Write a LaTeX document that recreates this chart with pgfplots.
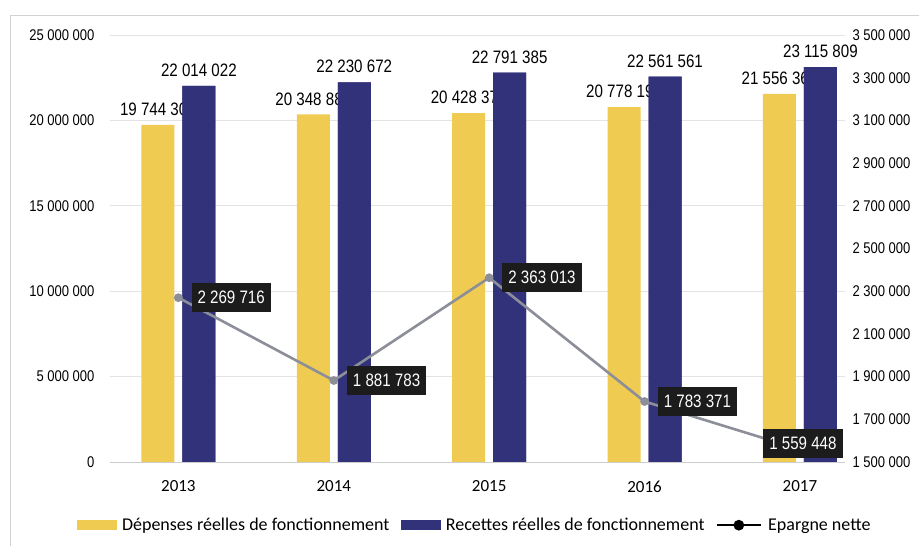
\documentclass[border=0pt]{standalone}
\usepackage{fontspec}
\setmainfont{Carlito}
\newfontfamily\narrowfont[FakeStretch=0.84]{Liberation Sans}
\usepackage{pgfplots}
\pgfplotsset{compat=1.18}
\definecolor{jaune}{RGB}{240,203,82}
\definecolor{bleu}{RGB}{50,50,122}
\definecolor{ligne}{RGB}{140,142,152}
\definecolor{boite}{RGB}{28,28,28}
\pgfplotsset{
  barres/.style={
    at={(110pt,84pt)}, anchor=south west,
    scale only axis, width=735pt, height=427pt,
    xmin=-0.44, xmax=4.29,
    ymin=0, ymax=25000000,
    ybar=8pt, bar width=33pt,
  },
}
\begin{document}
\begin{tikzpicture}
\useasboundingbox (0,0) rectangle (919pt,546pt);
\fill[white] (0,0) rectangle (919pt,546pt);
\draw[gray!35] (10pt,-5pt) rectangle (930pt,531pt);

% bars, left axis
\begin{axis}[
  barres,
  scaled y ticks=false,
  ytick={0,5000000,10000000,15000000,20000000,25000000},
  yticklabels={0,5 000 000,10 000 000,15 000 000,20 000 000,25 000 000},
  xtick={0,1,2,3,4},
  xticklabels={2013,2014,2015,2016,2017},
  axis x line*=bottom, axis y line*=left,
  y axis line style={draw=none},
  x axis line style={draw=gray!40, line width=0.8pt},
  major tick length=0pt,
  ymajorgrids, grid style={gray!22, line width=0.8pt},
  yticklabel style={font=\narrowfont\fontsize{15.5}{16}\selectfont, anchor=east, xshift=-12pt},
  xticklabel style={font=\fontsize{17}{18}\selectfont, yshift=-15pt},
  point meta=explicit symbolic,
  nodes near coords={\pgfplotspointmeta},
  every node near coord/.append style={font=\narrowfont\fontsize{18}{18}\selectfont, inner sep=0pt, yshift=9pt, text=black},
]
\addplot[fill=jaune, draw=none] coordinates {
  (0,19744306) [19 744 306]
  (1,20348889) [20 348 889]
  (2,20428372) [20 428 372]
  (3,20778190) [20 778 190]
  (4,21556361) [21 556 361]
};
\addplot[fill=bleu, draw=none] coordinates {
  (0,22014022) [22 014 022]
  (1,22230672) [22 230 672]
  (2,22791385) [22 791 385]
  (3,22561561) [22 561 561]
  (4,23115809) [23 115 809]
};
\end{axis}

% blue bars again, over the ends of the yellow labels
\begin{axis}[barres, hide axis]
\addplot[draw=none, fill=none] coordinates {(0,19744306) (1,20348889) (2,20428372) (3,20778190) (4,21556361)};
\addplot[fill=bleu, draw=none] coordinates {(0,22014022) (1,22230672) (2,22791385) (3,22561561) (4,23115809)};
\end{axis}

% net savings, right axis
\begin{axis}[
  at={(110pt,84pt)}, anchor=south west,
  scale only axis, width=735pt, height=427pt,
  xmin=-0.44, xmax=4.29,
  ymin=1500000, ymax=3500000,
  scaled y ticks=false,
  ytick={1500000,1700000,1900000,2100000,2300000,2500000,2700000,2900000,3100000,3300000,3500000},
  yticklabels={1 500 000,1 700 000,1 900 000,2 100 000,2 300 000,2 500 000,2 700 000,2 900 000,3 100 000,3 300 000,3 500 000},
  axis x line=none, axis y line*=right,
  y axis line style={draw=none},
  major tick length=0pt,
  yticklabel style={font=\narrowfont\fontsize{15.5}{16}\selectfont, anchor=west, xshift=4pt},
  legend style={at={(0.496,-0.148)}, anchor=center, draw=none, fill=none,
    font=\fontsize{18}{18}\selectfont, legend columns=3,
    nodes={inner xsep=2pt},
    /tikz/every odd column/.append style={column sep=4pt},
    /tikz/every even column/.append style={column sep=9pt}},
  legend cell align=left,
]
\addlegendimage{legend image code/.code={\fill[jaune] (0pt,-4.5pt) rectangle (39pt,4.5pt);}}
\addlegendentry{Dépenses réelles de fonctionnement}
\addlegendimage{legend image code/.code={\fill[bleu] (0pt,-4.5pt) rectangle (39pt,4.5pt);}}
\addlegendentry{Recettes réelles de fonctionnement}
\addplot[ligne, line width=2.6pt, mark=*, mark size=3pt, mark options={fill=ligne, draw=ligne},
  legend image code/.code={\draw[black, line width=2.6pt] (0pt,0pt) -- (44pt,0pt); \fill[black] (22pt,0pt) circle (4pt);}]
  coordinates {(0,2269716) (1,1881783) (2,2363013) (3,1783371) (4,1559448)};
\addlegendentry{Epargne nette}
\addplot[draw=none, forget plot, point meta=explicit symbolic,
  nodes near coords={\pgfplotspointmeta},
  every node near coord/.style={anchor=west, xshift=13pt, fill=boite, text=white,
    inner xsep=6pt, inner ysep=8pt, font=\narrowfont\fontsize{18}{18}\selectfont}]
  coordinates {(0,2269716) [2 269 716] (1,1881783) [1 881 783] (2,2363013) [2 363 013] (3,1783371) [1 783 371]};
\addplot[draw=none, forget plot, point meta=explicit symbolic,
  nodes near coords={\pgfplotspointmeta},
  every node near coord/.style={anchor=center, xshift=3pt, yshift=6pt, fill=boite, text=white,
    inner xsep=6pt, inner ysep=8pt, font=\narrowfont\fontsize{18}{18}\selectfont}]
  coordinates {(4,1559448) [1 559 448]};
\end{axis}
\end{tikzpicture}
\end{document}
